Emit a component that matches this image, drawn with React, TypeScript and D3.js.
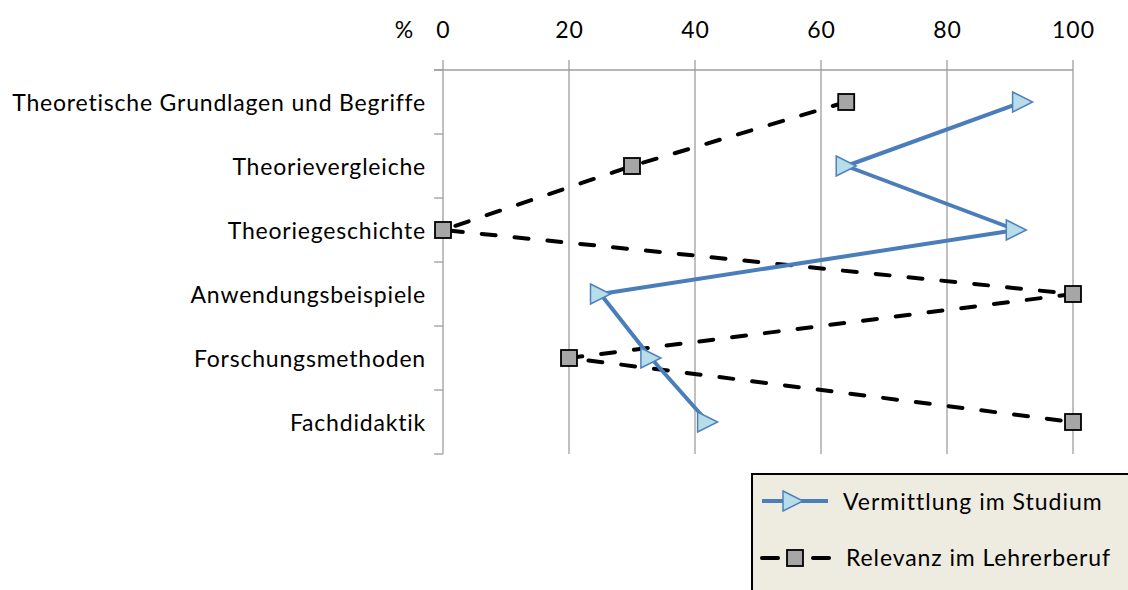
import React from "react";
import * as d3 from "d3";

const categories = [
  "Theoretische Grundlagen und Begriffe",
  "Theorievergleiche",
  "Theoriegeschichte",
  "Anwendungsbeispiele",
  "Forschungsmethoden",
  "Fachdidaktik",
];
const vermittlung = [92, 64, 91, 25, 33, 42];
const relevanz = [64, 30, 0, 100, 20, 100];
const xTicks = [0, 20, 40, 60, 80, 100];
const seriesNames = ["Vermittlung im Studium", "Relevanz im Lehrerberuf"];

const FONT = "Lato, 'Open Sans', sans-serif";

export default function App() {
  const W = 1128, H = 590;
  const x = d3.scaleLinear().domain([0, 100]).range([443, 1073]);
  const y = d3.scaleBand().domain(categories).range([70, 454]);
  const yc = (c: string) => (y(c) as number) + y.bandwidth() / 2;

  const line = d3
    .line<number>()
    .x((d) => x(d))
    .y((_, i) => yc(categories[i]));

  const tri = (cx: number, cy: number, s = 10) =>
    `M${cx - s},${cy - s}L${cx + s},${cy}L${cx - s},${cy + s}Z`;

  const boundaries = d3.range(categories.length + 1).map((i) => 70 + i * y.bandwidth());

  return (
    <svg width={W} height={H} style={{ position: "absolute", left: 0, top: 0, background: "#fff" }}>
      {/* gridlines */}
      {xTicks.map((t) => (
        <line key={t} x1={x(t)} x2={x(t)} y1={60} y2={454} stroke="#9e9e9e" strokeWidth={1.3} />
      ))}
      <line x1={434} x2={x(100)} y1={70} y2={70} stroke="#9e9e9e" strokeWidth={1.3} />
      {boundaries.map((b, i) => (
        <line key={i} x1={434} x2={443} y1={b} y2={b} stroke="#9e9e9e" strokeWidth={1.3} />
      ))}
      {/* tick labels */}
      {xTicks.map((t) => (
        <text key={t} x={x(t) + 0.5} y={38} textAnchor="middle" fontFamily={FONT} fontSize={23} letterSpacing={1} fill="#000">
          {t}
        </text>
      ))}
      <text x={404} y={38} textAnchor="middle" fontFamily={FONT} fontSize={23} fill="#000">%</text>
      {categories.map((c) => (
        <text key={c} x={426} y={yc(c) + 8.5} textAnchor="end" fontFamily={FONT} fontSize={23} letterSpacing={0.8} fill="#000">
          {c}
        </text>
      ))}
      {/* series */}
      <path d={line(relevanz) as string} fill="none" stroke="#000" strokeWidth={4} strokeDasharray="14 19" strokeLinecap="round" />
      <path d={line(vermittlung) as string} fill="none" stroke="#4a7ebb" strokeWidth={4} strokeLinejoin="round" />
      {relevanz.map((v, i) => (
        <rect key={i} x={x(v) - 8} y={yc(categories[i]) - 8} width={16} height={16} fill="#a6a6a6" stroke="#000" strokeWidth={1.8} />
      ))}
      {vermittlung.map((v, i) => (
        <path key={i} d={tri(x(v), yc(categories[i]))} fill="#b7dee8" stroke="#4f81bd" strokeWidth={1.5} />
      ))}
      {/* legend */}
      <rect x={752} y={474} width={390} height={130} fill="#eeece1" stroke="#000" strokeWidth={2} />
      <line x1={762} x2={828} y1={501} y2={501} stroke="#4a7ebb" strokeWidth={4} />
      <path d={tri(793, 501)} fill="#b7dee8" stroke="#4f81bd" strokeWidth={1.5} />
      <text x={843} y={510} fontFamily={FONT} fontSize={23} letterSpacing={1} fill="#000">{seriesNames[0]}</text>
      <line x1={762} x2={778} y1={558} y2={558} stroke="#000" strokeWidth={4} strokeLinecap="round" />
      <line x1={813} x2={829} y1={558} y2={558} stroke="#000" strokeWidth={4} strokeLinecap="round" />
      <rect x={787} y={550} width={16} height={16} fill="#a6a6a6" stroke="#000" strokeWidth={1.8} />
      <text x={846} y={566} fontFamily={FONT} fontSize={23} letterSpacing={0.9} fill="#000">{seriesNames[1]}</text>
    </svg>
  );
}
